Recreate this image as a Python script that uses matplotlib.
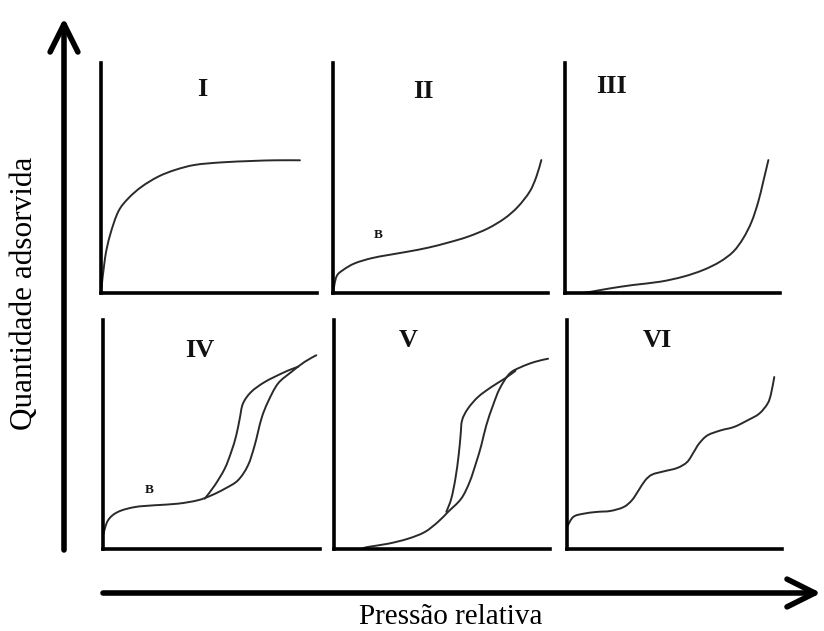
import matplotlib
matplotlib.use("Agg")
import matplotlib.pyplot as plt
from matplotlib.path import Path
from matplotlib.patches import PathPatch, FancyArrowPatch

plt.rcParams['font.family'] = ['Liberation Serif', 'DejaVu Serif']

W, H = 824, 631

# ---------------- data (fractions of each panel's axes) ----------------
typeI_x = [0.0, 0.0185, 0.042, 0.080, 0.127, 0.188, 0.265, 0.343, 0.435, 0.559, 0.698, 0.806, 0.921]
typeI_y = [0.0, 0.151, 0.252, 0.354, 0.412, 0.462, 0.506, 0.535, 0.557, 0.568, 0.574, 0.577, 0.577]

typeII_x = [0.0, 0.016, 0.047, 0.101, 0.178, 0.256, 0.349, 0.442, 0.535, 0.628, 0.721, 0.799, 0.860, 0.915, 0.946, 0.969]
typeII_y = [0.0, 0.071, 0.100, 0.129, 0.151, 0.165, 0.180, 0.197, 0.219, 0.245, 0.281, 0.325, 0.375, 0.441, 0.506, 0.578]

typeIII_x = [0.08, 0.124, 0.209, 0.318, 0.442, 0.550, 0.643, 0.721, 0.783, 0.829, 0.868, 0.899, 0.922, 0.946]
typeIII_y = [0.0, 0.006, 0.020, 0.035, 0.049, 0.071, 0.100, 0.136, 0.180, 0.238, 0.310, 0.397, 0.484, 0.578]

typeIV_ads_x = [0.0, 0.023, 0.069, 0.146, 0.238, 0.346, 0.438, 0.499, 0.561, 0.622, 0.668, 0.699, 0.730, 0.760, 0.806, 0.868, 0.929, 0.983]
typeIV_ads_y = [0.06, 0.125, 0.162, 0.183, 0.191, 0.198, 0.213, 0.234, 0.263, 0.300, 0.365, 0.453, 0.569, 0.642, 0.722, 0.773, 0.817, 0.846]
typeIV_des_x = [0.469, 0.515, 0.561, 0.591, 0.614, 0.630, 0.645, 0.683, 0.745, 0.822, 0.868, 0.900]
typeIV_des_y = [0.220, 0.278, 0.351, 0.424, 0.496, 0.569, 0.635, 0.686, 0.729, 0.766, 0.785, 0.796]

typeV_ads_x = [0.127, 0.157, 0.250, 0.343, 0.420, 0.481, 0.528, 0.589, 0.628, 0.659, 0.682, 0.705, 0.736, 0.767, 0.813, 0.867, 0.929, 0.991]
typeV_ads_y = [0.0, 0.009, 0.023, 0.045, 0.074, 0.118, 0.162, 0.220, 0.293, 0.380, 0.453, 0.540, 0.627, 0.700, 0.766, 0.795, 0.817, 0.831]
typeV_des_x = [0.520, 0.543, 0.562, 0.577, 0.586, 0.593, 0.620, 0.667, 0.728, 0.790, 0.840]
typeV_des_y = [0.162, 0.220, 0.307, 0.409, 0.496, 0.562, 0.613, 0.664, 0.707, 0.744, 0.778]

typeVI_x = [0.0, 0.029, 0.076, 0.139, 0.201, 0.263, 0.302, 0.333, 0.364, 0.396, 0.450, 0.513, 0.559, 0.590, 0.614, 0.653, 0.715, 0.777, 0.840, 0.894, 0.933, 0.949, 0.964]
typeVI_y = [0.096, 0.140, 0.154, 0.162, 0.166, 0.183, 0.213, 0.256, 0.300, 0.325, 0.339, 0.354, 0.380, 0.424, 0.460, 0.496, 0.518, 0.533, 0.562, 0.591, 0.635, 0.678, 0.751]

panel_labels = ['I', 'II', 'III', 'IV', 'V', 'VI']
xlabel_text = 'Pressão relativa'
ylabel_text = 'Quantidade adsorvida'

# ---------------- layout (pixel boxes: x0, x1, y_top, y_bottom) ----------------
boxes = [
    (101, 317, 63, 293),
    (333, 548, 63, 293),
    (565, 780, 63, 293),
    (103, 320, 320, 549),
    (334, 550, 320, 549),
    (567, 782, 320, 549),
]
label_pos = [(0.468, 0.883), (0.419, 0.875), (0.217, 0.897),
             (0.446, 0.868), (0.343, 0.911), (0.419, 0.911)]

curves = [
    [(typeI_x, typeI_y)],
    [(typeII_x, typeII_y)],
    [(typeIII_x, typeIII_y)],
    [(typeIV_ads_x, typeIV_ads_y), (typeIV_des_x, typeIV_des_y)],
    [(typeV_ads_x, typeV_ads_y), (typeV_des_x, typeV_des_y)],
    [(typeVI_x, typeVI_y)],
]
b_pos = {1: (0.212, 0.252), 3: (0.215, 0.256)}


def smooth_path(xs, ys):
    """Catmull-Rom through the read points, drawn as cubic Bezier segments."""
    pts = list(zip(xs, ys))
    n = len(pts)
    verts = [pts[0]]
    codes = [Path.MOVETO]
    for k in range(n - 1):
        p0 = pts[k - 1] if k > 0 else pts[k]
        p1 = pts[k]
        p2 = pts[k + 1]
        p3 = pts[k + 2] if k + 2 < n else pts[k + 1]
        c1 = (p1[0] + (p2[0] - p0[0]) / 6, p1[1] + (p2[1] - p0[1]) / 6)
        c2 = (p2[0] - (p3[0] - p1[0]) / 6, p2[1] - (p3[1] - p1[1]) / 6)
        verts += [c1, c2, p2]
        codes += [Path.CURVE4] * 3
    return Path(verts, codes)


fig = plt.figure(figsize=(W / 100, H / 100), dpi=100)
fig.patch.set_facecolor('white')

for i, (x0, x1, yt, yb) in enumerate(boxes):
    ax = fig.add_axes([x0 / W, 1 - yb / H, (x1 - x0) / W, (yb - yt) / H])
    ax.set_xlim(0, 1)
    ax.set_ylim(0, 1)
    ax.patch.set_alpha(0)
    for s in ['top', 'right']:
        ax.spines[s].set_visible(False)
    for s in ['left', 'bottom']:
        ax.spines[s].set_linewidth(2.6)
        ax.spines[s].set_color('black')
        ax.spines[s].set_capstyle('projecting')
    ax.set_xticks([])
    ax.set_yticks([])
    for cx, cy in curves[i]:
        ax.add_patch(PathPatch(smooth_path(cx, cy), fill=False, edgecolor='#2a2a2a',
                               lw=1.4, capstyle='round', clip_on=False))
    lx, ly = label_pos[i]
    ax.text(lx, ly, panel_labels[i], transform=ax.transAxes, ha='center', va='center',
            fontsize=19, fontweight='bold', color='#111111')
    if i in b_pos:
        bx, by = b_pos[i]
        ax.text(bx, by, 'B', ha='center', va='center', fontsize=9.5, fontweight='bold', color='#111111')

# big axis arrows
arrow_kw = dict(arrowstyle='->,head_length=1.0,head_width=0.5', lw=4.0, color='black',
                mutation_scale=20, shrinkA=0, shrinkB=0)
fig.add_artist(FancyArrowPatch((64 / W, 1 - 550 / H), (64 / W, 1 - 18 / H),
                               transform=fig.transFigure, **arrow_kw))
fig.add_artist(FancyArrowPatch((103 / W, 1 - 593 / H), (821 / W, 1 - 593 / H),
                               transform=fig.transFigure, **arrow_kw))

fig.text(25 / W, 1 - 293 / H, ylabel_text, rotation=90, ha='center', va='center', fontsize=22.5)
fig.text(451 / W, 1 - 617 / H, xlabel_text, ha='center', va='center', fontsize=21)

fig.savefig('out.png', dpi=100, facecolor='white')
